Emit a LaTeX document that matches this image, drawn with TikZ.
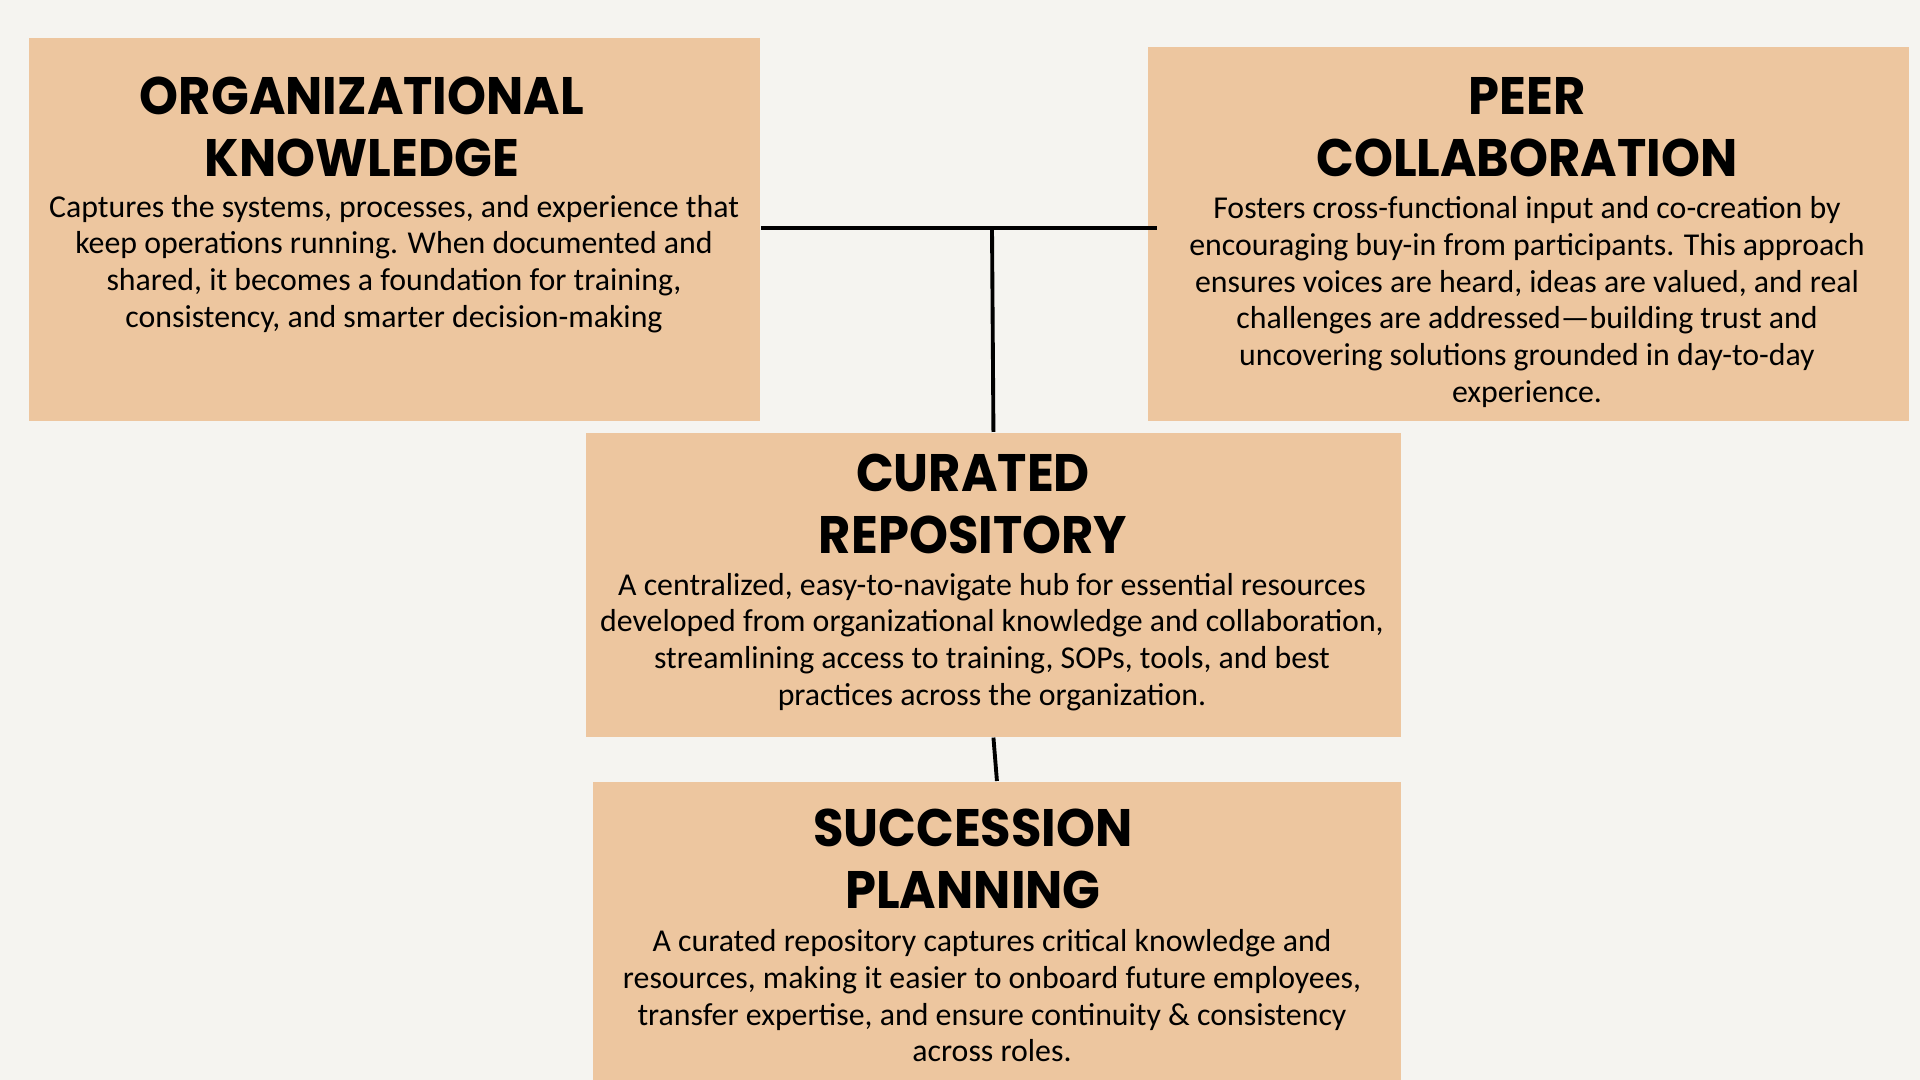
\documentclass[tikz,border=0pt]{standalone}
\usepackage{fontspec}
\setmainfont{Carlito}
\newfontfamily\headfont[FakeStretch=0.94]{Poppins}
\definecolor{peach}{HTML}{EDC69F}
\definecolor{paper}{HTML}{F5F4F0}

\begin{document}
\begin{tikzpicture}[x=0.01cm, y=-0.01cm,
        box/.style={fill=peach, draw=none, anchor=north west, inner sep=0pt},
        heading/.style={font=\headfont\bfseries\fontsize{15}{17.6}\selectfont, align=center, inner sep=0pt},
        blurb/.style={font=\fontsize{9.05}{10.44}\selectfont, align=center, inner sep=0pt},
        link/.style={black, line width=1.1pt}]
        \fill[paper] (0,0) rectangle (1920,1080);
        \useasboundingbox (0,0) rectangle (1920,1080);
        \clip (0,0) rectangle (1920,1080);
        % The four boxes.
            \node[box, minimum width=7.31cm, minimum height=3.83cm] (orgbox) at (28,37) {};
            \node[box, minimum width=7.61cm, minimum height=3.74cm] (peerbox) at (1147,46) {};
            \node[box, minimum width=8.15cm, minimum height=3.04cm] (repobox) at (585,432) {};
            \node[box, minimum width=8.08cm, minimum height=3.20cm] (succbox) at (592,781) {};
        % This draws the connectors.
            \coordinate (hub) at (992,228);
            \draw[link] (orgbox.east |- hub) -- ([xshift=0.1cm]peerbox.west |- hub);
            \draw[link] (hub) -- (repobox.north);
            \draw[link] (repobox.south) -- (succbox.north);
        % Below nodes are the headings.
            \node[heading] (orgtitle) at (362,127) {ORGANIZATIONAL\\KNOWLEDGE};
            \node[heading] (peertitle) at (1527,127) {PEER\\COLLABORATION};
            \node[heading] (repotitle) at (973,504) {CURATED\\REPOSITORY};
            \node[heading] (succtitle) at (973,859) {SUCCESSION\\PLANNING};
        % Below nodes are the texts.
            \node[blurb] (orgtext) at (394,264) {Captures the systems, processes, and experience that\\
                keep operations running. When documented and\\
                shared, it becomes a foundation for training,\\
                consistency, and smarter decision-making};
            \node[blurb] (peertext) at (1527,302) {Fosters cross-functional input and co-creation by\\
                encouraging buy-in from participants. This approach\\
                ensures voices are heard, ideas are valued, and real\\
                challenges are addressed—building trust and\\
                uncovering solutions grounded in day-to-day\\
                experience.};
            \node[blurb] (repotext) at (992,642) {A centralized, easy-to-navigate hub for essential resources\\
                developed from organizational knowledge and collaboration,\\
                streamlining access to training, SOPs, tools, and best\\
                practices across the organization.};
            \node[blurb] (succtext) at (992,996) {A curated repository captures critical knowledge and\\
                resources, making it easier to onboard future employees,\\
                transfer expertise, and ensure continuity \& consistency\\
                across roles.};
    \end{tikzpicture}
\end{document}
